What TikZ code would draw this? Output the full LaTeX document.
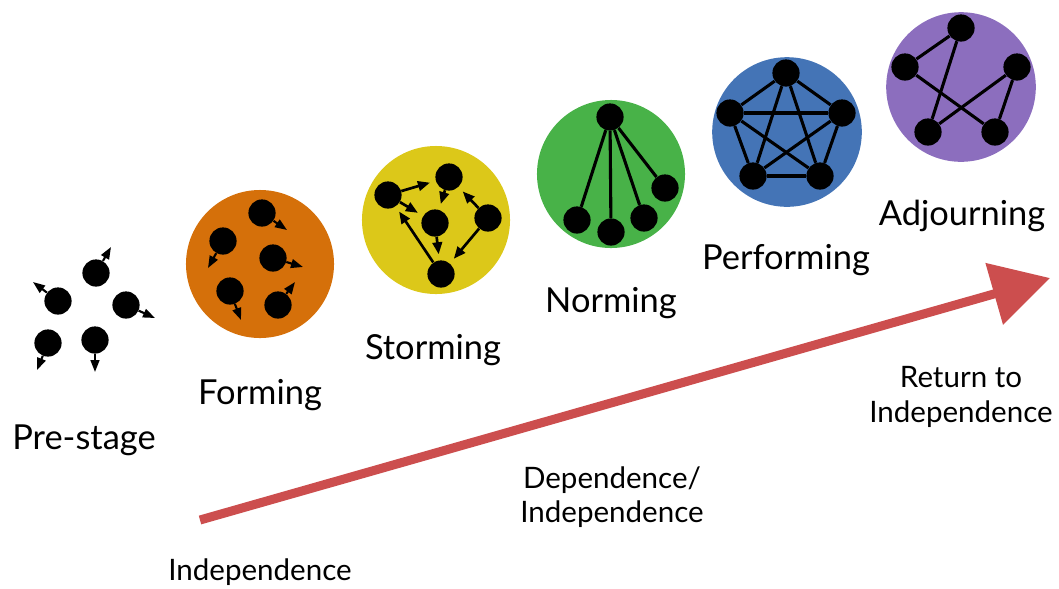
\documentclass[tikz,border=0pt]{standalone}
\usepackage{fontspec}
\setmainfont{Lato}
\usetikzlibrary{arrows.meta}

\definecolor{formorange}{RGB}{213,112,10}
\definecolor{stormyellow}{RGB}{220,200,25}
\definecolor{normgreen}{RGB}{72,178,72}
\definecolor{perfblue}{RGB}{68,116,182}
\definecolor{adjpurple}{RGB}{140,110,190}
\definecolor{risered}{RGB}{204,78,78}

\begin{document}
\begin{tikzpicture}[x=0.025cm, y=-0.025cm,
    member/.style={circle, fill=black, inner sep=0pt, minimum size=0.68cm},
    drift/.style={line width=1.5pt, -{Triangle[length=0.3cm, width=0.22cm]}},
    pull/.style={line width=1.9pt, -{Triangle[length=0.3cm, width=0.24cm]}, shorten >=0.15cm},
    tie/.style={line width=2.2pt},
    growth/.style={draw=risered, line width=0.225cm, -{Triangle[length=1.45cm, width=1.55cm]}},
    stage/.style={font=\fontsize{24.5}{28}\selectfont},
    phase/.style={font=\fontsize{21}{24.5}\selectfont, align=center}]
\useasboundingbox (0,0) rectangle (1059,588);

% stage backgrounds
\fill[formorange] (260,264) circle (1.85cm);
\fill[stormyellow] (436,220) circle (1.85cm);
\fill[normgreen] (611,174) circle (1.85cm);
\fill[perfblue] (787,132) circle (1.87cm);
\fill[adjpurple] (961,87) circle (1.87cm);

% pre-stage
\node[member] (p1) at (96,273) {};
\node[member] (p2) at (58,301) {};
\node[member] (p3) at (126,305) {};
\node[member] (p4) at (48,343) {};
\node[member] (p5) at (95,340) {};
\coordinate (tipp1) at (111,247);
\coordinate (tipp2) at (33,282);
\coordinate (tipp3) at (155,318);
\coordinate (tipp4) at (37,370);
\coordinate (tipp5) at (95,372);
\draw[drift] (p1) -- (tipp1);
\draw[drift] (p2) -- (tipp2);
\draw[drift] (p3) -- (tipp3);
\draw[drift] (p4) -- (tipp4);
\draw[drift] (p5) -- (tipp5);

% forming
\node[member] (f1) at (262,213) {};
\node[member] (f2) at (223,241) {};
\node[member] (f3) at (273,258) {};
\node[member] (f4) at (230,291) {};
\node[member] (f5) at (278,305) {};
\coordinate (tipf1) at (287,230);
\coordinate (tipf2) at (208,268);
\coordinate (tipf3) at (303,267);
\coordinate (tipf4) at (241,320);
\coordinate (tipf5) at (295,282);
\draw[drift] (f1) -- (tipf1);
\draw[drift] (f2) -- (tipf2);
\draw[drift] (f3) -- (tipf3);
\draw[drift] (f4) -- (tipf4);
\draw[drift] (f5) -- (tipf5);

% storming
\node[member] (s1) at (388,195) {};
\node[member] (s2) at (449,177) {};
\node[member] (s3) at (435,223) {};
\node[member] (s4) at (488,218) {};
\node[member] (s5) at (441,274) {};
\draw[pull] (s1) -- (s2);
\draw[pull] (s1) -- (s3);
\draw[pull] (s2) -- (s3);
\draw[pull] (s3) -- (s5);
\draw[pull] (s4) -- (s2);
\draw[pull] (s4) -- (s5);
\draw[pull] (s5) -- (s1);

% norming
\node[member] (n0) at (610,117) {};
\node[member] (n1) at (577,220) {};
\node[member] (n2) at (611,232) {};
\node[member] (n3) at (644,218) {};
\node[member] (n4) at (665,188) {};
\draw[tie] (n0) -- (n1);
\draw[tie] (n0) -- (n2);
\draw[tie] (n0) -- (n3);
\draw[tie] (n0) -- (n4);

% performing
\node[member] (q1) at (786,73) {};
\node[member] (q2) at (730,113) {};
\node[member] (q3) at (842,113) {};
\node[member] (q4) at (753,176) {};
\node[member] (q5) at (820,176) {};
\draw[tie] (q1) -- (q2);
\draw[tie] (q1) -- (q3);
\draw[tie] (q1) -- (q4);
\draw[tie] (q1) -- (q5);
\draw[tie] (q2) -- (q3);
\draw[tie] (q2) -- (q4);
\draw[tie] (q2) -- (q5);
\draw[tie] (q3) -- (q4);
\draw[tie] (q3) -- (q5);
\draw[tie] (q4) -- (q5);

% adjourning
\node[member] (a1) at (961,28) {};
\node[member] (a2) at (905,67) {};
\node[member] (a3) at (1017,67) {};
\node[member] (a4) at (928,132) {};
\node[member] (a5) at (995,132) {};
\draw[tie] (a1) -- (a2);
\draw[tie] (a1) -- (a4);
\draw[tie] (a2) -- (a5);
\draw[tie] (a3) -- (a4);
\draw[tie] (a3) -- (a5);

% stage names
\node[stage] (prestage) at (84,440) {Pre-stage};
\node[stage] (forming) at (260,395) {Forming};
\node[stage] (storming) at (433,350) {Storming};
\node[stage] (norming) at (611,303) {Norming};
\node[stage] (performing) at (786,260) {Performing};
\node[stage] (adjourning) at (962,216) {Adjourning};

% dependence arrow
\coordinate (risestart) at (200,520);
\coordinate (riseend) at (1050,278);
\draw[growth] (risestart) -- (riseend);
\node[phase] (indep) at (260,572) {Independence};
\node[phase] (depindep) at (612,497) {Dependence/\\Independence};
\node[phase] (returnindep) at (961,397) {Return to\\Independence};

\end{tikzpicture}
\end{document}
